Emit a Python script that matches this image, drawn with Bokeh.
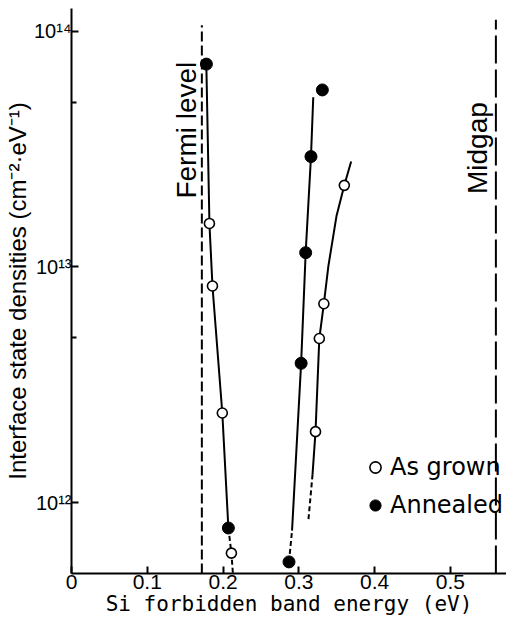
from math import pi
from bokeh.plotting import figure
from bokeh.models import Range1d, FixedTicker, NumeralTickFormatter, Legend, LegendItem, Label
from bokeh.embed import file_html
from bokeh.resources import INLINE

# ---------------- data ----------------
fermi_level = 0.172          # eV
midgap = 0.56                # eV
fermi_line_span = [5e11, 1.06e14]
midgap_line_span = [5e11, 1.12e14]

as_grown_energy = [0.182, 0.186, 0.199, 0.211, 0.322, 0.327, 0.333, 0.360]
as_grown_density = [1.53e13, 8.3e12, 2.4e12, 6.1e11, 2.0e12, 4.97e12, 6.98e12, 2.22e13]

annealed_energy = [0.178, 0.207, 0.287, 0.303, 0.309, 0.316, 0.331]
annealed_density = [7.26e13, 7.8e11, 5.6e11, 3.9e12, 1.15e13, 2.94e13, 5.64e13]

# hand-drawn curves
left_curve_energy = [0.178, 0.182, 0.186, 0.199, 0.207]
left_curve_density = [7.0e13, 1.53e13, 8.3e12, 2.4e12, 7.8e11]
left_tail_energy = [0.207, 0.211, 0.213]
left_tail_density = [7.8e11, 6.1e11, 5.0e11]

annealed_curve_energy = [0.291, 0.303, 0.309, 0.316, 0.319]
annealed_curve_density = [7.6e11, 3.9e12, 1.15e13, 2.94e13, 5.25e13]
annealed_tail_energy = [0.287, 0.291]
annealed_tail_density = [5.6e11, 7.6e11]

grown_curve_energy = [0.318, 0.322, 0.327, 0.333, 0.339, 0.3496, 0.360, 0.369]
grown_curve_density = [1.31e12, 2.0e12, 4.97e12, 6.98e12, 1.01e13, 1.64e13, 2.22e13, 2.8e13]
grown_tail_energy = [0.3127, 0.318]
grown_tail_density = [8.5e11, 1.31e12]

x_ticks = [0, 0.1, 0.2, 0.3, 0.4, 0.5]
y_ticks = [1e12, 1e13, 1e14]
y_tick_labels = ["10\u00b9\u00b2", "10\u00b9\u00b3", "10\u00b9\u2074"]
y_minor_ticks = [5e12, 5e13]

# ---------------- figure ----------------
p = figure(width=506, height=621,
           x_range=Range1d(0, 0.574), y_range=Range1d(5e11, 1.25e14),
           y_axis_type="log", output_backend="svg", toolbar_location=None,
           min_border_left=71, min_border_right=0, min_border_top=8, min_border_bottom=48)
p.outline_line_color = None
p.grid.visible = False
p.background_fill_color = "white"
p.border_fill_color = "white"

for ax in (p.xaxis[0], p.yaxis[0]):
    ax.axis_line_width = 2
    ax.axis_line_color = "black"
    ax.major_tick_line_width = 2
    ax.major_tick_line_color = "black"
    ax.minor_tick_line_width = 2
    ax.minor_tick_line_color = "black"
    ax.major_tick_in = 7
    ax.major_tick_out = 0
    ax.minor_tick_in = 5
    ax.minor_tick_out = 0
    ax.major_label_text_color = "black"
    ax.major_label_text_font = "Liberation Sans"
    ax.axis_label_text_color = "black"
    ax.axis_label_text_font_style = "normal"

p.xaxis.ticker = FixedTicker(ticks=x_ticks, minor_ticks=[])
p.xaxis.formatter = NumeralTickFormatter(format="0.[0]")
p.xaxis.major_label_text_font_size = "21px"
p.xaxis.major_label_standoff = 1
p.xaxis.axis_label = "Si forbidden band energy (eV)"
p.xaxis.axis_label_text_font = "DejaVu Sans Mono"
p.xaxis.axis_label_text_font_size = "21px"
p.xaxis.axis_label_standoff = 0

p.yaxis.ticker = FixedTicker(ticks=y_ticks, minor_ticks=y_minor_ticks)
p.yaxis.major_label_overrides = dict(zip(y_ticks, y_tick_labels))
p.yaxis.major_label_text_font_size = "20px"
p.yaxis.major_label_standoff = 0
p.yaxis.axis_label = "Interface state densities (cm\u207b\u00b2\u00b7eV\u207b\u00b9)"
p.yaxis.axis_label_text_font = "Liberation Sans"
p.yaxis.axis_label_text_font_size = "24px"
p.yaxis.axis_label_standoff = 0

# reference lines
p.line([fermi_level, fermi_level], fermi_line_span, line_color="black", line_width=2, line_dash="10 4")
p.line([midgap, midgap], midgap_line_span, line_color="black", line_width=2, line_dash="28 6")

# curves
p.line(left_curve_energy, left_curve_density, line_color="black", line_width=2)
p.line(left_tail_energy, left_tail_density, line_color="black", line_width=2, line_dash="5 3")
p.line(annealed_curve_energy, annealed_curve_density, line_color="black", line_width=2)
p.line(annealed_tail_energy, annealed_tail_density, line_color="black", line_width=2, line_dash="5 3")
p.line(grown_curve_energy, grown_curve_density, line_color="black", line_width=2)
p.line(grown_tail_energy, grown_tail_density, line_color="black", line_width=2, line_dash="5 3")

# markers
r_grown = p.scatter(as_grown_energy, as_grown_density, marker="circle", size=10,
                    fill_color="white", line_color="black", line_width=1.6)
r_ann = p.scatter(annealed_energy, annealed_density, marker="circle", size=12,
                  fill_color="black", line_color="black", line_width=1)

legend = Legend(items=[LegendItem(label="As grown", renderers=[r_grown]),
                       LegendItem(label="Annealed", renderers=[r_ann])],
                location=(290, 54), padding=0, margin=0, spacing=10,
                glyph_width=28, glyph_height=28, label_height=28, label_standoff=1,
                label_text_font="DejaVu Sans", label_text_font_size="24px",
                label_text_color="black",
                background_fill_alpha=0, border_line_color=None)
p.add_layout(legend)

p.add_layout(Label(x=fermi_level, y=1.95e13, x_offset=-15, text="Fermi level", angle=pi / 2,
                   text_align="left", text_baseline="alphabetic",
                   text_font="Liberation Sans", text_font_size="28px", text_color="black"))
p.add_layout(Label(x=midgap, y=2.04e13, x_offset=-18, text="Midgap", angle=pi / 2,
                   text_align="left", text_baseline="alphabetic",
                   text_font="Liberation Sans", text_font_size="28px", text_color="black"))

open("out.html", "w").write(file_html(p, INLINE))
